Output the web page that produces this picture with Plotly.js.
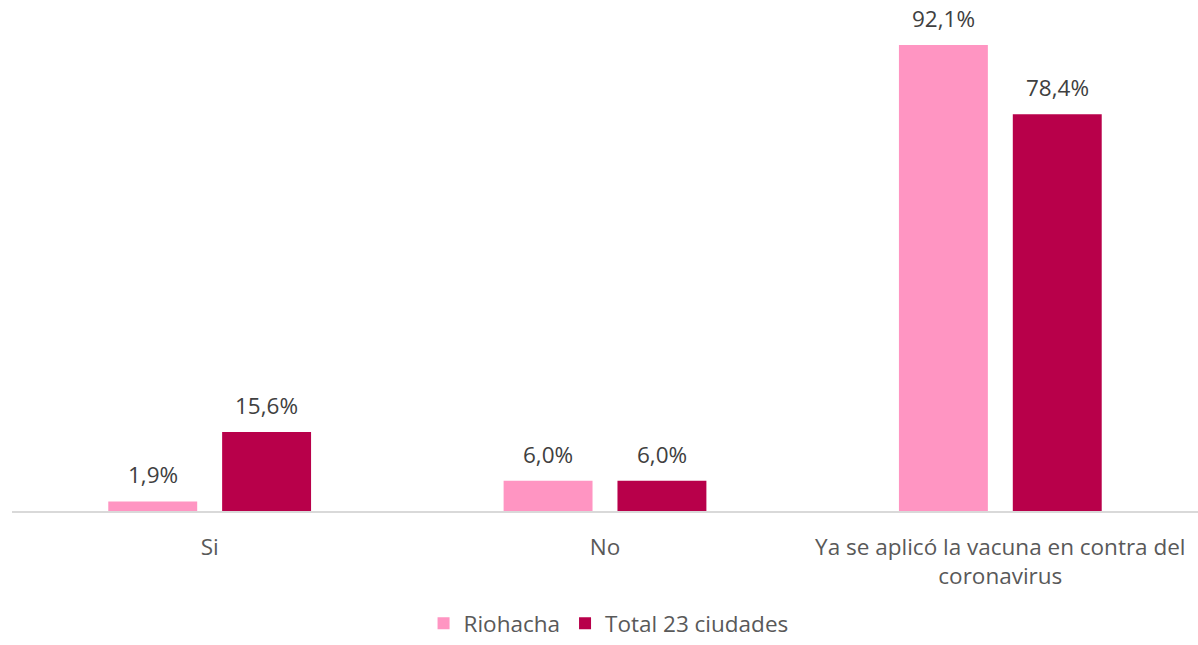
<!DOCTYPE html>
<html><head><meta charset="utf-8">
<script src="https://cdn.plot.ly/plotly-3.0.1.min.js"></script>
<style>html,body{margin:0;padding:0;background:#fff}#c{width:1198px;height:645px}</style>
</head><body><div id="c"></div>
<script>
const categories = ["Si", "No", "Ya se aplicó la vacuna en contra del<br>coronavirus"];
const riohacha = [1.9, 6.0, 92.1];
const total23 = [15.6, 6.0, 78.4];
const seriesNames = ["Riohacha", "Total 23 ciudades"];
const fmt = v => v.toFixed(1).replace('.', ',') + '%';
const mk = (name, vals, color) => ({
  type: 'bar', name: name, x: categories, y: vals,
  marker: {color: color},
  hoverinfo: 'none'
});
const data = [mk(seriesNames[0], riohacha, '#FF95C2'), mk(seriesNames[1], total23, '#B8004A')];
const labelFont = {family: 'Open Sans, sans-serif', size: 22.5, color: '#404040'};
const annotations = [];
[[riohacha, -57], [total23, 57]].forEach(([vals, dx]) => {
  vals.forEach((v, i) => annotations.push({
    x: categories[i], y: v, xref: 'x', yref: 'y', text: fmt(v), showarrow: false,
    xanchor: 'center', yanchor: 'bottom', xshift: dx, yshift: 9, font: labelFont
  }));
});
const layout = {
  width: 1198, height: 645,
  margin: {l: 12, r: 0, t: 10, b: 134, autoexpand: false},
  paper_bgcolor: '#fff', plot_bgcolor: '#fff',
  barmode: 'group', bargap: 0.424, bargroupgap: 0.219,
  font: {family: 'Open Sans, sans-serif', size: 22.5, color: '#595959'},
  xaxis: {showline: true, linecolor: '#d9d9d9', linewidth: 1.5, ticks: '', showgrid: false,
          automargin: false, ticklabelstandoff: 15,
          tickfont: {size: 22.5, color: '#595959'}},
  yaxis: {range: [0, 99], visible: false, showgrid: false, zeroline: false, automargin: false},
  annotations: annotations,
  showlegend: true,
  legend: {orientation: 'h', x: 0.503, xanchor: 'center', y: -0.2675, yanchor: 'bottom',
           font: {size: 22.5, color: '#595959'}, itemwidth: 30, borderwidth: 0}
};
Plotly.newPlot('c', data, layout, {displayModeBar: false, staticPlot: true});
</script></body></html>
